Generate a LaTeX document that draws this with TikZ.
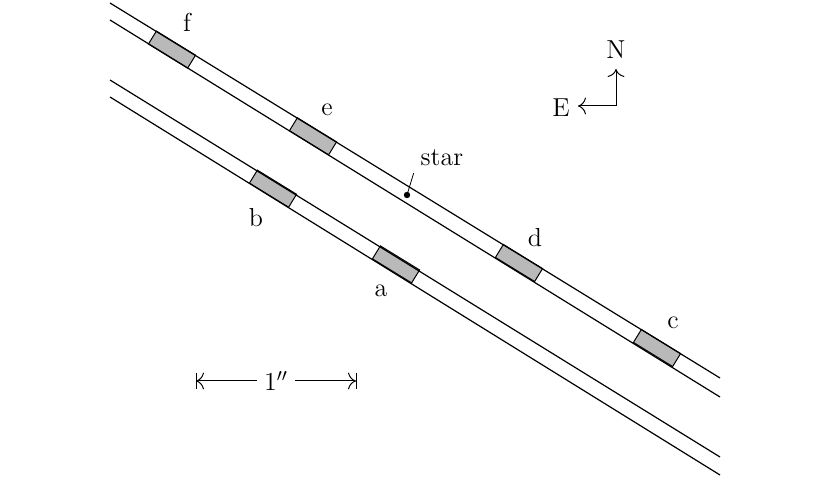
\documentclass[tikz,border=0pt]{standalone}
\usepackage{tikz}
\usetikzlibrary{arrows.meta, positioning}
\tikzset{
    slitline/.style={
        draw=black,
        line width=0.6pt
    },
    pad/.style={
        rectangle,
        draw=black,
        line width=0.5pt,
        fill=gray!55,
        inner sep=0pt,
        minimum width=23pt,
        minimum height=7.6pt,
        rotate=-31.6
    },
    letter/.style={
        font=\fontsize{13}{15}\selectfont
    },
    pointer/.style={
        draw=black,
        line width=0.5pt,
        -{To[length=4pt]}
    }
}
\begin{document}
\begin{tikzpicture}[x=0.5pt, y=-0.5pt]
\useasboundingbox (0,0) rectangle (830,480);

% Pads on the upper slit
\node[pad] (pad_f) at (172,49.6) {};
\node[pad] (pad_e) at (313,136.3) {};
\node[pad] (pad_d) at (519,263) {};
\node[pad] (pad_c) at (657,348) {};

% Pads on the lower slit
\node[pad] (pad_b) at (273,188.7) {};
\node[pad] (pad_a) at (396,264.4) {};

% Slit edges
\draw[slitline] (110,3) -- (720,378);
\draw[slitline] (110,20) -- (720,397);
\draw[slitline] (110,80) -- (720,457);
\draw[slitline] (110,97) -- (720,475);

% Labels
\node[letter] (lab_f) at (187,22) {f};
\node[letter] (lab_e) at (327,110) {e};
\node[letter] (lab_d) at (535,238) {d};
\node[letter] (lab_c) at (673,323) {c};
\node[letter] (lab_b) at (256,218) {b};
\node[letter] (lab_a) at (381,291) {a};

% Star
\fill (407,195) circle (1.6pt) coordinate (star_dot);
\node[letter] (lab_star) at (442,158) {star};
\draw[line width=0.4pt] (star_dot) -- (lab_star.south west);

% Compass
\coordinate (corner) at (616,106);
\node[letter] (lab_n) at (616,50) {N};
\node[letter] (lab_e2) at (561,108) {E};
\draw[pointer] (corner) -- (616,69);
\draw[pointer] (corner) -- (578,106);

% Scale bar
\node[letter] (unit) at (276,381) {1$''$};
\coordinate (bar_l) at (196,381);
\coordinate (bar_r) at (356,381);
\draw[line width=0.5pt] (196,373) -- (196,389);
\draw[line width=0.5pt] (356,373) -- (356,389);
\draw[pointer] (unit.west) -- (bar_l);
\draw[pointer] (unit.east) -- (bar_r);

\end{tikzpicture}
\end{document}
